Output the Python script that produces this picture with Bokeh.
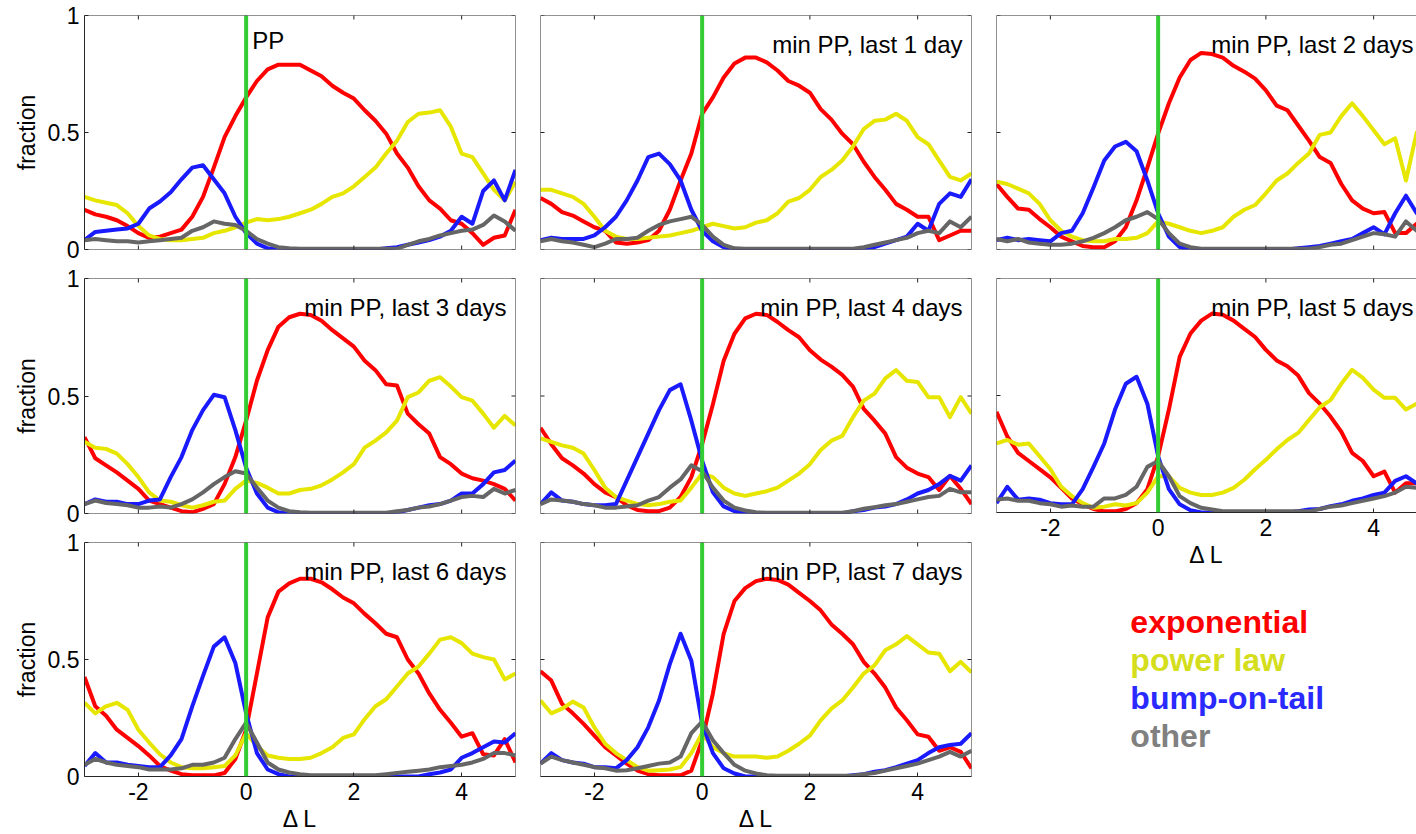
import math
from bokeh.plotting import figure
from bokeh.models import FixedTicker, LinearAxis, Span, Range1d
from bokeh.layouts import row, column
from bokeh.embed import file_html
from bokeh.resources import INLINE
from bokeh.core.properties import value

# ---------------- data ----------------
delta_L = [-3.0, -2.8, -2.6, -2.4, -2.2, -2.0, -1.8, -1.6, -1.4, -1.2, -1.0,
           -0.8, -0.6, -0.4, -0.2, 0.0, 0.2, 0.4, 0.6, 0.8, 1.0, 1.2, 1.4,
           1.6, 1.8, 2.0, 2.2, 2.4, 2.6, 2.8, 3.0, 3.2, 3.4, 3.6, 3.8, 4.0,
           4.2, 4.4, 4.6, 4.8, 5.0]

titles = ["PP", "min PP, last 1 day", "min PP, last 2 days",
          "min PP, last 3 days", "min PP, last 4 days", "min PP, last 5 days",
          "min PP, last 6 days", "min PP, last 7 days"]

series_names = ["exponential", "power law", "bump-on-tail", "other"]

# PP
exponential_pp = [.17,.15,.14,.125,.10,.07,.05,.055,.07,.085,.14,.225,.35,.48,.57,.65,.72,.77,.79,.79,.79,.765,.74,.70,.67,.645,.595,.55,.495,.41,.35,.27,.21,.175,.125,.11,.07,.02,.05,.06,.17]
power_pp = [.225,.21,.2,.19,.155,.1,.06,.045,.04,.04,.045,.05,.07,.08,.095,.115,.13,.125,.13,.14,.155,.17,.195,.225,.24,.27,.31,.35,.41,.465,.545,.58,.585,.595,.525,.41,.395,.325,.255,.21,.29]
bump_pp = [.04,.075,.08,.085,.09,.11,.175,.205,.245,.30,.35,.36,.30,.24,.14,.07,.025,.005,0,0,0,0,0,0,0,0,0,0,.005,.01,.02,.03,.04,.055,.08,.14,.11,.25,.295,.21,.34]
other_pp = [.04,.045,.04,.035,.035,.03,.035,.04,.045,.05,.08,.095,.12,.11,.105,.08,.045,.025,.01,.005,.003,.003,.003,.003,.003,.003,.003,.003,.003,.003,.02,.035,.045,.06,.07,.08,.085,.105,.145,.12,.08]

# last 1 day
exponential_1d = [.22,.195,.16,.145,.12,.095,.08,.03,.025,.03,.04,.08,.17,.295,.41,.58,.65,.735,.795,.82,.82,.80,.765,.72,.70,.67,.60,.555,.495,.45,.375,.31,.255,.195,.17,.14,.14,.04,.06,.08,.08]
power_1d = [.255,.255,.24,.225,.195,.14,.08,.055,.045,.045,.05,.055,.06,.07,.08,.095,.11,.10,.09,.095,.115,.125,.155,.205,.22,.255,.31,.34,.38,.44,.515,.55,.555,.58,.55,.48,.45,.38,.31,.295,.325]
bump_1d = [.04,.05,.045,.045,.045,.06,.095,.14,.21,.295,.395,.41,.365,.295,.17,.08,.035,.01,0,0,0,0,0,0,0,0,0,0,0,0,.005,.01,.025,.04,.055,.11,.08,.195,.24,.225,.30]
other_1d = [.035,.045,.035,.03,.02,.01,.025,.045,.045,.05,.08,.105,.12,.13,.14,.105,.055,.02,.005,.003,.003,.003,.003,.003,.003,.003,.003,.003,.003,.003,.01,.02,.03,.04,.05,.07,.08,.07,.12,.095,.14]

# last 2 days
exponential_2d = [.28,.225,.175,.17,.13,.095,.055,.035,.015,.01,.01,.035,.095,.21,.35,.495,.625,.735,.81,.84,.835,.82,.785,.76,.73,.68,.615,.595,.53,.465,.395,.37,.28,.21,.175,.155,.16,.07,.07,.11,.155]
power_2d = [.29,.28,.26,.24,.195,.125,.08,.055,.04,.035,.035,.045,.045,.05,.07,.12,.11,.095,.08,.07,.08,.095,.14,.17,.19,.24,.295,.325,.37,.41,.49,.50,.57,.625,.57,.51,.45,.475,.295,.50,.52]
bump_2d = [.04,.05,.04,.045,.04,.035,.07,.08,.155,.265,.38,.44,.46,.42,.295,.155,.055,.01,0,0,0,0,0,0,0,0,0,0,.005,.01,.015,.025,.035,.045,.07,.095,.065,.155,.23,.155,.125]
other_2d = [.045,.035,.045,.03,.025,.02,.02,.025,.035,.05,.07,.095,.125,.14,.16,.13,.07,.025,.01,.003,.003,.003,.003,.003,.003,.003,.003,.003,.003,.003,.01,.02,.025,.04,.055,.07,.065,.055,.12,.08,.08]

# last 3 days
exponential_3d = [.325,.235,.205,.175,.14,.105,.055,.04,.025,.01,.005,.02,.04,.125,.24,.395,.565,.695,.795,.835,.85,.845,.82,.78,.745,.71,.65,.61,.55,.545,.425,.38,.34,.24,.21,.17,.15,.14,.125,.105,.055]
power_3d = [.305,.28,.275,.255,.21,.155,.09,.055,.05,.035,.025,.035,.05,.055,.105,.14,.13,.11,.085,.085,.1,.105,.12,.145,.175,.21,.28,.31,.345,.395,.495,.515,.565,.58,.54,.495,.48,.425,.365,.415,.375]
bump_3d = [.04,.06,.05,.05,.04,.04,.055,.06,.155,.24,.355,.44,.505,.495,.355,.195,.085,.025,.005,0,0,0,0,0,0,0,0,0,0,.005,.015,.025,.035,.04,.055,.085,.085,.125,.175,.185,.225]
other_3d = [.04,.055,.045,.04,.035,.025,.025,.03,.025,.04,.06,.09,.125,.155,.18,.17,.11,.055,.025,.01,.005,.003,.003,.003,.003,.003,.003,.003,.003,.01,.015,.025,.03,.04,.055,.07,.075,.07,.105,.085,.1]

# last 4 days
exponential_4d = [.365,.295,.235,.205,.17,.125,.09,.07,.035,.015,.01,.01,.025,.07,.155,.295,.465,.65,.765,.83,.85,.845,.815,.78,.75,.695,.655,.625,.59,.54,.445,.395,.34,.24,.195,.17,.155,.1,.16,.105,.04]
power_4d = [.32,.305,.29,.28,.255,.185,.11,.07,.055,.04,.035,.04,.05,.055,.11,.17,.155,.11,.085,.075,.085,.095,.11,.14,.17,.21,.27,.31,.33,.41,.48,.51,.575,.61,.565,.56,.495,.495,.41,.495,.425]
bump_4d = [.04,.09,.055,.05,.04,.035,.035,.04,.14,.24,.34,.44,.525,.55,.395,.225,.09,.03,.01,0,0,0,0,0,0,0,0,0,0,.01,.015,.025,.03,.04,.06,.085,.1,.125,.16,.14,.205]
other_4d = [.04,.06,.055,.05,.04,.035,.025,.025,.03,.035,.055,.07,.11,.145,.205,.18,.11,.055,.025,.013,.005,.003,.003,.003,.003,.003,.003,.003,.003,.01,.02,.027,.035,.04,.05,.06,.07,.075,.105,.09,.09]

# last 5 days
exponential_5d = [.43,.325,.255,.22,.185,.15,.105,.06,.035,.015,.005,.005,.015,.04,.1,.24,.44,.665,.765,.82,.85,.845,.82,.785,.75,.695,.65,.625,.585,.51,.465,.41,.345,.255,.22,.155,.175,.085,.125,.125,.1]
power_5d = [.295,.31,.29,.295,.24,.185,.11,.07,.04,.02,.025,.035,.03,.04,.085,.155,.155,.105,.085,.075,.075,.085,.105,.14,.185,.225,.27,.31,.34,.395,.45,.48,.55,.61,.575,.525,.49,.49,.44,.465,.52]
bump_5d = [.04,.11,.055,.06,.055,.04,.035,.035,.1,.195,.295,.44,.55,.58,.465,.24,.1,.035,.01,0,0,0,0,0,0,0,0,0,.005,.013,.015,.027,.035,.05,.06,.075,.085,.135,.155,.125,.155]
other_5d = [.055,.06,.05,.05,.04,.035,.025,.03,.025,.025,.06,.06,.075,.11,.195,.22,.155,.07,.04,.02,.013,.005,.005,.005,.005,.005,.005,.005,.005,.005,.015,.025,.03,.04,.05,.06,.07,.085,.11,.105,.105]

# last 6 days
exponential_6d = [.425,.30,.26,.2,.165,.13,.09,.045,.025,.01,.005,.005,.005,.015,.075,.2,.44,.68,.79,.825,.845,.845,.83,.80,.765,.74,.695,.655,.61,.595,.50,.44,.355,.285,.23,.17,.185,.095,.09,.16,.06]
power_6d = [.315,.27,.30,.315,.285,.2,.145,.095,.06,.04,.035,.035,.04,.045,.09,.185,.13,.09,.08,.075,.075,.08,.1,.125,.165,.18,.245,.30,.33,.385,.44,.47,.525,.585,.595,.57,.525,.51,.50,.415,.44]
bump_6d = [.045,.10,.06,.06,.05,.045,.04,.04,.09,.16,.30,.43,.555,.595,.485,.27,.10,.03,.01,0,0,0,0,0,0,0,0,0,0,0,0,0,.01,.017,.03,.08,.10,.125,.15,.145,.185]
other_6d = [.05,.075,.06,.05,.045,.04,.03,.03,.03,.035,.05,.05,.06,.08,.16,.23,.145,.06,.03,.017,.01,.005,.005,.005,.005,.005,.005,.005,.01,.015,.02,.025,.03,.04,.045,.05,.06,.075,.10,.10,.09]

# last 7 days
exponential_7d = [.45,.41,.31,.27,.225,.175,.125,.09,.055,.025,.01,.005,.005,.005,.025,.155,.355,.61,.75,.805,.835,.845,.84,.82,.785,.75,.71,.65,.61,.565,.49,.44,.38,.295,.24,.18,.17,.11,.125,.105,.035]
power_7d = [.325,.27,.29,.32,.295,.21,.14,.1,.07,.04,.025,.027,.03,.04,.1,.185,.125,.1,.085,.085,.085,.08,.085,.11,.14,.175,.24,.29,.325,.38,.44,.475,.54,.565,.60,.565,.53,.525,.45,.49,.445]
bump_7d = [.055,.1,.07,.06,.055,.04,.04,.035,.07,.125,.21,.325,.48,.61,.495,.225,.1,.035,.013,0,0,0,0,0,0,0,0,0,0,.005,.01,.02,.027,.04,.055,.07,.1,.125,.135,.14,.185]
other_7d = [.055,.085,.07,.06,.05,.04,.035,.025,.027,.035,.045,.055,.06,.085,.185,.235,.155,.1,.05,.025,.013,.005,.003,.003,.003,.003,.003,.003,.003,.003,.01,.015,.025,.035,.045,.055,.07,.085,.105,.085,.11]

exponential_all = [exponential_pp, exponential_1d, exponential_2d, exponential_3d,
                   exponential_4d, exponential_5d, exponential_6d, exponential_7d]
power_all = [power_pp, power_1d, power_2d, power_3d, power_4d, power_5d, power_6d, power_7d]
bump_all = [bump_pp, bump_1d, bump_2d, bump_3d, bump_4d, bump_5d, bump_6d, bump_7d]
other_all = [other_pp, other_1d, other_2d, other_3d, other_4d, other_5d, other_6d, other_7d]

for name, group in [("exp", exponential_all), ("pow", power_all), ("bump", bump_all), ("other", other_all)]:
    for k, arr in enumerate(group):
        if len(arr) != len(delta_L):
            raise ValueError(f"{name}[{k}] has {len(arr)} values")

x_ticks = [-2, 0, 2, 4]
y_ticks = [0, 0.5, 1]
x_start, y_start, y_end = -3.0, 0.0, 1.0
event_x = 0

# ---------------- style ----------------
FONT = "Liberation Sans"
AXIS_COLOR = "#262626"
LINE_COLORS = ["#ff0000", "#e6e600", "#1a1aff", "#666666"]
LEGEND_COLORS = ["#ff0000", "#d4de1c", "#2a2aff", "#808080"]
EVENT_COLOR = "#33cc33"
LW = 4
TICK_LEN = 4


def make_axis(ticks, overrides, axis_label, standoff, label_standoff):
    ax = LinearAxis(ticker=FixedTicker(ticks=ticks, minor_ticks=[]))
    ax.major_tick_in = TICK_LEN
    ax.major_tick_out = 0
    ax.minor_tick_line_color = None
    ax.axis_line_color = AXIS_COLOR
    ax.major_tick_line_color = AXIS_COLOR
    ax.axis_line_width = 1
    ax.major_tick_line_width = 1
    ax.major_label_overrides = overrides
    ax.major_label_text_font = FONT
    ax.major_label_text_font_size = "23px"
    ax.major_label_text_color = "#000000"
    ax.major_label_standoff = standoff
    if axis_label:
        ax.axis_label = axis_label
        ax.axis_label_text_font = FONT
        ax.axis_label_text_font_size = "23px"
        ax.axis_label_text_font_style = "normal"
        ax.axis_label_text_color = "#000000"
        ax.axis_label_standoff = label_standoff
    return ax


def add_edge(p, side, x_end):
    """Box edge line plus inward tick marks (clipped half of a centred dash)."""
    if side in ("top", "bottom"):
        yv = y_end if side == "top" else y_start
        p.add_layout(Span(location=yv, dimension="width", line_color=AXIS_COLOR, line_width=1))
        p.scatter(x=x_ticks, y=[yv] * len(x_ticks), marker="dash", angle=math.pi / 2,
                  size=2 * TICK_LEN, line_color=AXIS_COLOR, line_width=1)
    else:
        xv = x_start if side == "left" else x_end
        p.add_layout(Span(location=xv, dimension="height", line_color=AXIS_COLOR, line_width=1))
        p.scatter(x=[xv] * len(y_ticks), y=y_ticks, marker="dash", angle=0,
                  size=2 * TICK_LEN, line_color=AXIS_COLOR, line_width=1)


x_over = {-2: "-2", 0: "0", 2: "2", 4: "4"}
y_over = {0: "0", 0.5: "0.5", 1: "1"}

FRAME_W = 431
panels = []
for i in range(8):
    r, c = divmod(i, 3)
    show_x = (r == 2) or (r == 1 and c == 2)
    show_y = (c == 0)
    width = 527 if c == 0 else (456 if c == 1 else 433)
    if r == 0:
        height = 263
    else:
        height = 307 if show_x else 264
    mbl = 84 if c == 0 else 13
    mbr = 0 if c == 2 else 12
    mbb = 57 if show_x else 14
    x_end = 5.0 if c < 2 else x_start + 8.0 * 420 / FRAME_W
    p = figure(width=width, height=height, x_range=Range1d(x_start, x_end), y_range=Range1d(y_start, y_end),
               output_backend="svg", toolbar_location=None, title=None,
               x_axis_location=None, y_axis_location=None,
               min_border_left=mbl, min_border_right=mbr, min_border_top=15, min_border_bottom=mbb,
               outline_line_color=None, background_fill_color="white", border_fill_color="white")
    p.grid.visible = False

    if show_x:
        p.add_layout(make_axis(x_ticks, x_over, "Δ L", 6, 3), "below")
    if show_y:
        p.add_layout(make_axis(y_ticks, y_over, "fraction", 5, 5), "left")

    for data, color in zip([exponential_all[i], power_all[i], bump_all[i], other_all[i]], LINE_COLORS):
        p.line(delta_L, data, line_color=color, line_width=LW, line_join="round")

    p.add_layout(Span(location=event_x, dimension="height", line_color=EVENT_COLOR, line_width=LW))

    add_edge(p, "top", x_end)
    if not show_x:
        add_edge(p, "bottom", x_end)
    if not show_y:
        add_edge(p, "left", x_end)
    if c < 2:
        add_edge(p, "right", x_end)

    if i == 0:
        p.text(x=[event_x], y=[y_end], text=[titles[i]], x_offset=6, y_offset=25,
               text_font=value(FONT), text_font_size="24px", text_color="#000000",
               text_align="left", text_baseline="alphabetic")
    else:
        p.text(x=[x_end], y=[y_end], text=[titles[i]], x_offset=(-9 if c < 2 else -3), y_offset=29,
               text_font=value(FONT), text_font_size="24px", text_color="#000000",
               text_align="right", text_baseline="alphabetic")
    panels.append(p)

# legend panel
leg = figure(width=433, height=264, x_range=Range1d(0, 433), y_range=Range1d(264, 0),
             output_backend="svg", toolbar_location=None, title=None,
             x_axis_location=None, y_axis_location=None,
             min_border=0, min_border_left=0, min_border_right=0, min_border_top=0, min_border_bottom=0,
             outline_line_color=None, background_fill_color="white", border_fill_color="white")
leg.grid.visible = False
leg_x = [138] * len(series_names)
leg_y = [51 + 38.3 * k for k in range(len(series_names))]
leg.text(x=leg_x, y=leg_y, text=series_names, text_color=LEGEND_COLORS,
         text_font=value(FONT), text_font_size="32px", text_font_style="bold",
         text_align="left", text_baseline="alphabetic")

layout = row(
    column(panels[0], panels[3], panels[6]),
    column(panels[1], panels[4], panels[7]),
    column(panels[2], panels[5], leg),
)

open("out.html", "w").write(file_html(layout, INLINE))
